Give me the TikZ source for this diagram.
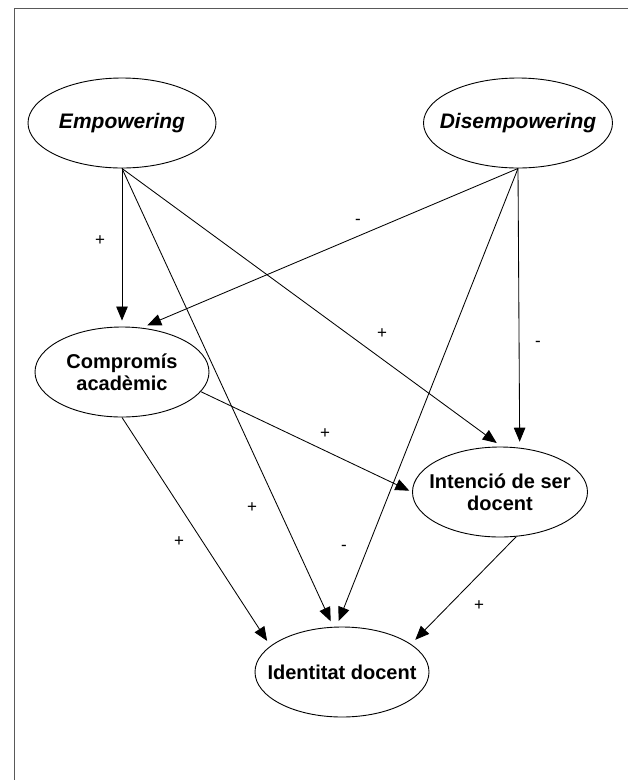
\documentclass[tikz,border=0pt]{standalone}
\usepackage{fontspec}
\setmainfont{Liberation Sans}
\usetikzlibrary{shapes.geometric,arrows.meta}
\begin{document}
\begin{tikzpicture}[x=1pt,y=-1pt,
  ell/.style={draw, ellipse, line width=0.9pt, inner xsep=-30pt, inner ysep=0pt,
    align=center, font=\bfseries\fontsize{20}{22}\selectfont},
  ellit/.style={ell, font=\bfseries\itshape\fontsize{21}{22}\selectfont},
  arr/.style={-{Triangle[length=14pt,width=11.5pt]}, line width=0.85pt, shorten >=6pt},
  lab/.style={font=\fontsize{17}{17}\selectfont, inner sep=0pt}]
\useasboundingbox (0,0) rectangle (628,780);
\draw[black!65, line width=1pt] (14,780) -- (14,8) -- (628,8);

\node[ellit, minimum width=188pt, minimum height=90pt] (emp) at (122,123) {Empowering};
\node[ellit, minimum width=189pt, minimum height=90pt] (dis) at (518,123) {Disempowering};
\node[ell, minimum width=174pt, minimum height=90pt] (comp) at (122,372) {Compromís\\acadèmic};
\node[ell, minimum width=175pt, minimum height=90pt] (int) at (500,492) {Intenció de ser\\docent};
\node[ell, minimum width=174pt, minimum height=90pt] (ident) at (342,672) {Identitat docent};

\draw[arr] (emp.south) -- (comp.north);
\draw[arr] (emp.south) -- (ident.101);
\draw[arr] (emp.south) -- (int.88);
\draw[arr] (dis.south) -- (comp.66);
\draw[arr] (dis.south) -- (ident.97);
\draw[arr] (dis.south) -- (int.66);
\draw[arr, shorten >=3pt] (comp.-14) -- (int.west);
\draw[arr] (comp.south) -- (ident.160);
\draw[arr] (int.-70) -- (ident.22);

\node[lab] (l1) at (100,241) {+};
\node[lab] (l2) at (358,222) {-};
\node[lab] (l3) at (382,334) {+};
\node[lab] (l4) at (538,344) {-};
\node[lab] (l5) at (325,434) {+};
\node[lab] (l6) at (252,508) {+};
\node[lab] (l7) at (179,542) {+};
\node[lab] (l8) at (344,548) {-};
\node[lab] (l9) at (479,606) {+};
\end{tikzpicture}
\end{document}
